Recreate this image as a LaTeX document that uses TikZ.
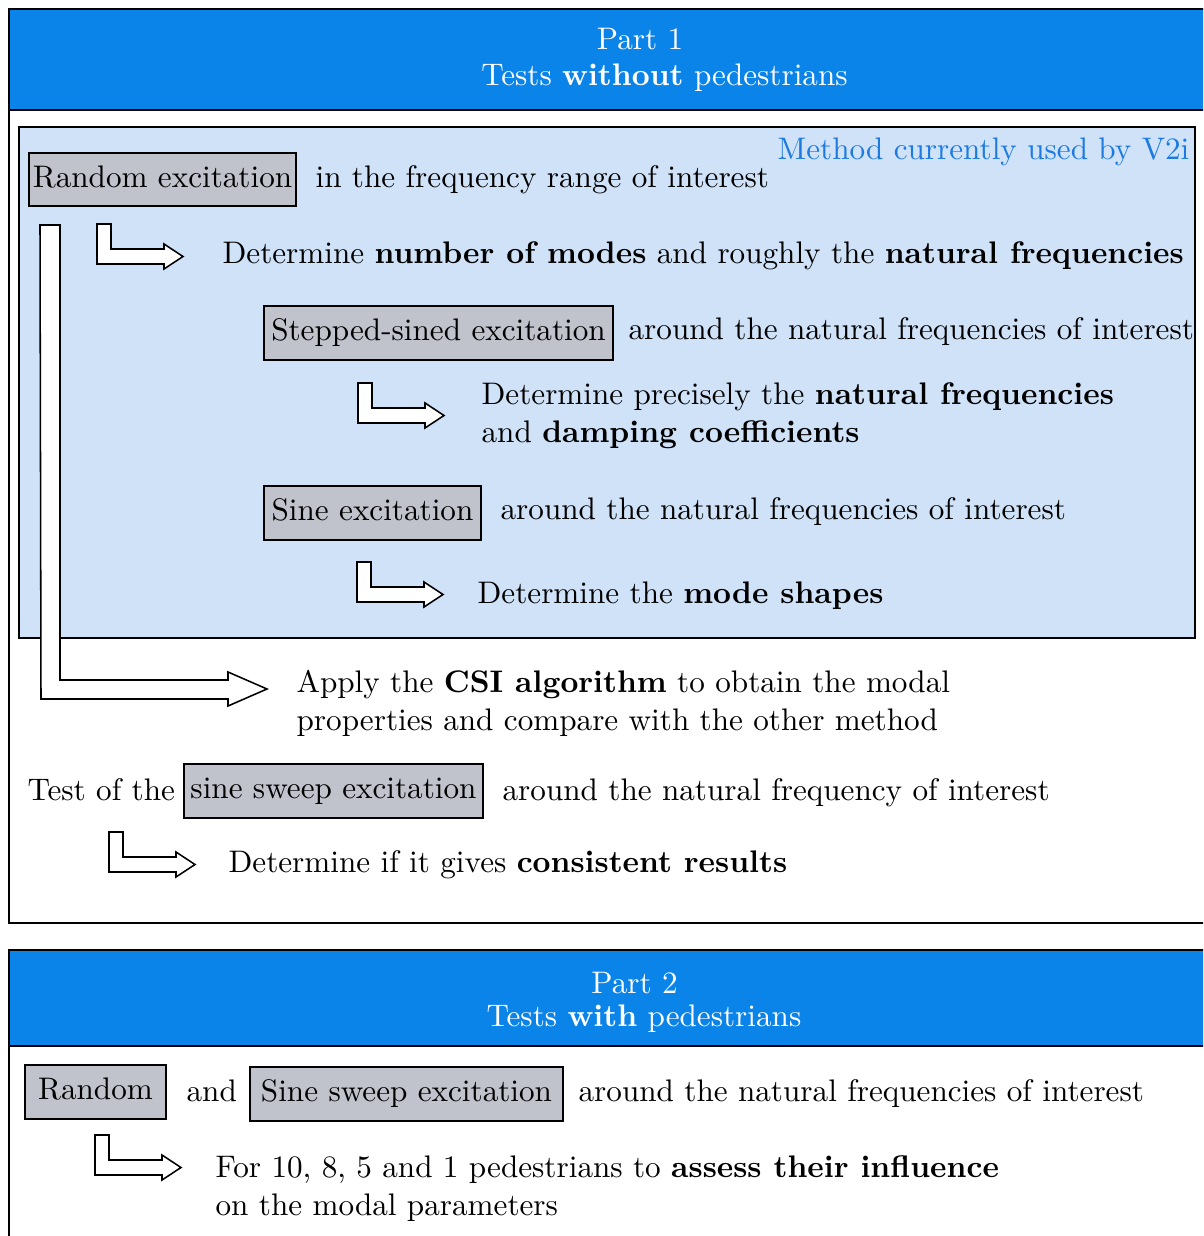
\documentclass[tikz,border=0pt]{standalone}
\usepackage{xcolor}
\definecolor{hdrblue}{RGB}{11,132,234}
\definecolor{lightblue}{RGB}{207,226,248}
\definecolor{boxgray}{RGB}{192,194,204}
\definecolor{methodblue}{RGB}{28,122,224}
\def\u{0.324pt}
\tikzset{
  frame/.style={draw=black, line width=0.7pt},
  graybox/.style={draw=black, fill=boxgray, line width=0.5pt, inner sep=0pt, text height=7pt, text depth=2pt},
  txt/.style={anchor=base west, inner sep=0pt, align=left},
  hdrtxt/.style={anchor=base, inner sep=0pt, text=white},
  arrowline/.style={draw=black, fill=white, line width=0.5pt, line join=miter},
  larrow/.pic={
    \path[arrowline] (0,0) -- (14,0) -- (14,25) -- (67,25) -- (67,20) -- (86,32.5)
      -- (67,45) -- (67,40) -- (0,40) -- cycle;
  }
}
\begin{document}
\begin{tikzpicture}[x=0.324pt, y=-0.324pt, every node/.append style={font=\fontsize{10.1pt}{12.3pt}\selectfont}]
\clip (0,0) rectangle (1203,1236);
\fill[white] (0,0) rectangle (1203,1236);

% ---------- Part 1 ----------
\fill[hdrblue] (9,9) rectangle (1240,110);
\draw[frame] (9,9) rectangle (1240,923);
\draw[frame] (9,110) -- (1240,110);
\node[hdrtxt] (p1a) at (640,50) {Part 1};
\node[hdrtxt] (p1b) at (664.5,86) {Tests \textbf{without} pedestrians};

% light blue region
\draw[frame, fill=lightblue] (19,127) rectangle (1195,638);
\node[anchor=base east, inner sep=0pt, text=methodblue] (method) at (1190,160) {Method currently used by V2i};

\node[graybox, minimum width=267*\u, minimum height=53*\u] (rand) at (162.5,179.5) {Random excitation};
\node[txt] (t1) at (315,188) {in the frequency range of interest};

\pic at (97,224) {larrow};
\node[txt] (t2) at (222,264) {Determine \textbf{number of modes} and roughly the \textbf{natural frequencies}};

\node[graybox, minimum width=349*\u, minimum height=54*\u] (step) at (438.5,333) {Stepped-sined excitation};
\node[txt] (t3) at (628,340) {around the natural frequencies of interest};

\pic at (358,383) {larrow};
\node[txt] (t4) at (481,405) {Determine precisely the \textbf{natural frequencies}};
\node[txt] (t4b) at (481,443) {and \textbf{damping coefficients}};

\node[graybox, minimum width=217*\u, minimum height=54*\u] (sine) at (372.5,513) {Sine excitation};
\node[txt] (t5) at (500,520) {around the natural frequencies of interest};

\pic at (357,562) {larrow};
\node[txt] (t6) at (477,603) {Determine the \textbf{mode shapes}};

% big L arrow
\path[arrowline] (40,225) -- (60,225) -- (60,680) -- (228,680) -- (228,672) -- (267,689)
  -- (228,706) -- (228,699) -- (41,699) -- cycle;
\node[txt] (t7) at (296,692) {Apply the \textbf{CSI algorithm} to obtain the modal};
\node[txt] (t7b) at (296,730) {properties and compare with the other method};

\node[txt] (t8a) at (27,800) {Test of the};
\node[graybox, minimum width=299*\u, minimum height=54*\u] (sweep) at (333.5,791) {sine sweep excitation};
\node[txt] (t8) at (502,800) {around the natural frequency of interest};

\pic at (109,832) {larrow};
\node[txt] (t9) at (228,872) {Determine if it gives \textbf{consistent results}};

% ---------- Part 2 ----------
\fill[hdrblue] (9,950) rectangle (1240,1046);
\draw[frame] (9,950) rectangle (1240,1280);
\draw[frame] (9,1046) -- (1240,1046);
\node[hdrtxt] (p2a) at (634.5,993) {Part 2};
\node[hdrtxt] (p2b) at (644,1026) {Tests \textbf{with} pedestrians};

\node[graybox, minimum width=141*\u, minimum height=54*\u] (rand2) at (95.5,1092) {Random};
\node[txt] (and) at (186,1101) {and};
\node[graybox, minimum width=313*\u, minimum height=54*\u] (sweep2) at (406.5,1094) {Sine sweep excitation};
\node[txt] (t10) at (578,1101) {around the natural frequencies of interest};

\pic at (95,1135) {larrow};
\node[txt] (t11) at (215,1177) {For 10, 8, 5 and 1 pedestrians to \textbf{assess their influence}};
\node[txt] (t11b) at (215,1215) {on the modal parameters};
\end{tikzpicture}
\end{document}
